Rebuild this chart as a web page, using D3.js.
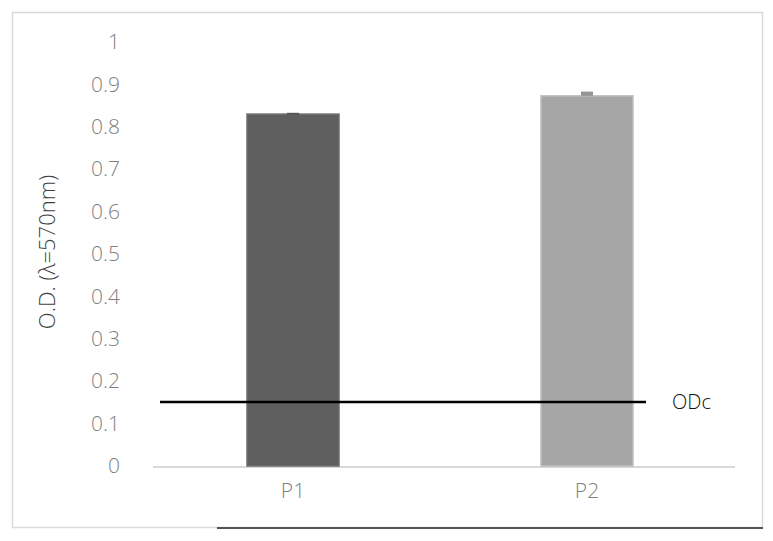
<!DOCTYPE html>
<html>
<head>
<meta charset="utf-8">
<script src="https://cdn.jsdelivr.net/npm/d3@7"></script>
<style>
  body { margin: 0; background: #fff; }
  text { font-family: "Open Sans", "Liberation Sans", sans-serif; }
</style>
</head>
<body>
<div id="chart"></div>
<script>
const width = 773, height = 541;

// data
const categories = ["P1", "P2"];
const values = [0.83, 0.873];
const errors = [0.003, 0.01];
const barColors = ["#5f5f5f", "#a6a6a6"];
const yTicks = [0, 0.1, 0.2, 0.3, 0.4, 0.5, 0.6, 0.7, 0.8, 0.9, 1];
const cutoff = 0.151;
const cutoffLabel = "ODc";

const svg = d3.select("#chart")
	.append("svg")
	.attr("width", width)
	.attr("height", height);

// outer frame
svg.append("rect")
	.attr("x", 12.5).attr("y", 12.5)
	.attr("width", 750).attr("height", 515)
	.attr("fill", "#fff")
	.attr("stroke", "#d9d9d9")
	.attr("stroke-width", 1.5);

svg.append("line")
	.attr("x1", 217).attr("x2", 763)
	.attr("y1", 528).attr("y2", 528)
	.attr("stroke", "#555")
	.attr("stroke-width", 2);

const x = d3.scaleBand()
	.domain(categories)
	.range([146, 734])
	.paddingInner(0.687)
	.paddingOuter(0.3435);

const y = d3.scaleLinear()
	.domain([0, 1])
	.range([466, 42]);

// y tick labels (no axis line)
const yAxis = svg.append("g")
	.attr("transform", "translate(127,0)")
	.call(d3.axisLeft(y).tickValues(yTicks).tickSize(0).tickPadding(7).tickFormat(d3.format("")));
yAxis.select(".domain").remove();
yAxis.selectAll("text")
	.attr("fill", "#7f7f7f")
	.style("font-size", "21px")
	.style("font-weight", 300);

// baseline
svg.append("line")
	.attr("x1", 153).attr("x2", 735)
	.attr("y1", y(0) + 1).attr("y2", y(0) + 1)
	.attr("stroke", "#d9d9d9")
	.attr("stroke-width", 2);

// bars
svg.selectAll(".bar")
	.data(categories)
	.enter()
	.append("rect")
	.classed("bar", true)
	.attr("x", d => x(d))
	.attr("y", (d, i) => y(values[i]))
	.attr("width", x.bandwidth())
	.attr("height", (d, i) => y(0) - y(values[i]))
	.attr("fill", (d, i) => barColors[i])
	.attr("stroke", (d, i) => d3.color(barColors[i]).brighter(0.4))
	.attr("stroke-width", 1.5);

// error bars
svg.selectAll(".err")
	.data(categories)
	.enter()
	.append("rect")
	.classed("err", true)
	.attr("x", d => x(d) + x.bandwidth() / 2 - 6)
	.attr("y", (d, i) => y(values[i] + errors[i]))
	.attr("width", 12)
	.attr("height", (d, i) => Math.max(2, y(values[i]) - y(values[i] + errors[i])))
	.attr("fill", (d, i) => d3.color(barColors[i]).darker(0.3));

// x labels
const xAxis = svg.append("g")
	.attr("transform", `translate(0,${y(0)})`)
	.call(d3.axisBottom(x).tickSize(0).tickPadding(17));
xAxis.select(".domain").remove();
xAxis.selectAll("text")
	.attr("fill", "#7f7f7f")
	.style("font-size", "21px")
	.style("font-weight", 300);

// cutoff line
svg.append("line")
	.attr("x1", 160).attr("x2", 646)
	.attr("y1", y(cutoff)).attr("y2", y(cutoff))
	.attr("stroke", "#000")
	.attr("stroke-width", 2.5);

svg.append("text")
	.attr("x", 672)
	.attr("y", y(cutoff))
	.attr("dy", "0.35em")
	.style("font-size", "20px")
	.style("font-weight", 300)
	.attr("fill", "#111")
	.text(cutoffLabel);

// y title
svg.append("text")
	.attr("transform", "translate(55,252) rotate(-90)")
	.attr("text-anchor", "middle")
	.style("font-size", "22px")
	.style("font-weight", 300)
	.attr("fill", "#404040")
	.text("O.D. (λ=570nm)");
</script>
</body>
</html>
